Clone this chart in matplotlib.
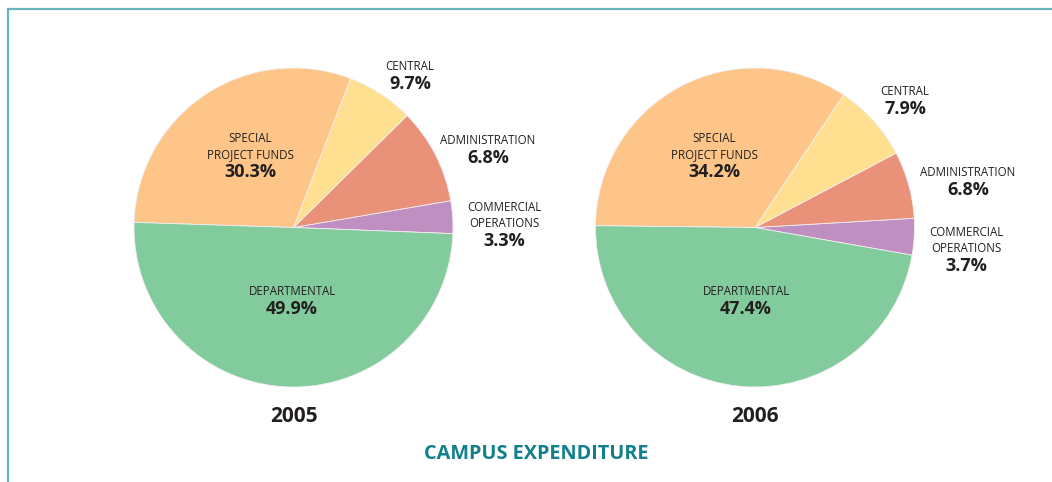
import matplotlib.pyplot as plt
from matplotlib.lines import Line2D

W, H = 1052, 482

categories = ['COMMERCIAL\nOPERATIONS', 'ADMINISTRATION', 'CENTRAL',
              'SPECIAL\nPROJECT FUNDS', 'DEPARTMENTAL']
colors = ['#bf8fc2', '#e99279', '#fee090', '#fdc588', '#82cb9c']

# percentages printed on the chart
pct_2005 = [3.3, 6.8, 9.7, 30.3, 49.9]
pct_2006 = [3.7, 6.8, 7.9, 34.2, 47.4]
# slice sizes as drawn (2005 admin/central wedges are swapped in the original)
slices_2005 = [3.3, 9.7, 6.8, 30.3, 49.9]
slices_2006 = [3.7, 6.8, 7.9, 34.2, 47.4]

years = ['2005', '2006']
title = 'CAMPUS EXPENDITURE'

# pixel centre (x, y from top) of each percentage figure, same order as categories
pos_2005 = [(504, 240), (488, 157), (410, 83), (250, 171), (292, 308)]
pos_2006 = [(966, 265), (968, 189), (905, 108), (714, 171), (746, 308)]

FONT = ['Open Sans', 'DejaVu Sans']
TXT = '#231f20'

fig = plt.figure(figsize=(W / 100, H / 100), dpi=100)
ax = fig.add_axes([0, 0, 1, 1])


def draw_pie(cx, cy, vals, start, pcts, positions, year):
    ax.pie(vals, colors=colors, startangle=start, counterclock=True,
           center=(cx, H - cy), radius=159.5,
           wedgeprops=dict(linewidth=0.6, edgecolor='#f4eef2'))
    for cat, p, (x, y) in zip(categories, pcts, positions):
        ax.text(x, H - (y + 6), f'{p}%', ha='center', va='baseline',
                fontsize=13, family=FONT, fontweight='bold', color=TXT)
        lines = cat.split('\n')[::-1]
        for k, line in enumerate(lines):
            base = y - 17 + 4 - 16 * k
            ax.text(x, H - base, line, ha='center', va='baseline',
                    fontsize=8.3, family=FONT, color=TXT)
    ax.text(cx, H - 422, year, ha='center', va='baseline', fontsize=15,
            family=FONT, fontweight='bold', color=TXT)


draw_pie(293.5, 227.5, slices_2005, -2.2, pct_2005, pos_2005, years[0])
draw_pie(755, 227.5, slices_2006, -10.0, pct_2006, pos_2006, years[1])

ax.text(536, H - 459, title, ha='center', va='baseline', fontsize=14.3,
        family=FONT, fontweight='bold', color='#117f8c')

# frame lines top and left
ax.add_line(Line2D([8, W], [H - 9, H - 9], color='#67b4bf', lw=1.6))
ax.add_line(Line2D([8, 8], [H - 9, 0], color='#67b4bf', lw=1.6))

ax.set_xlim(0, W)
ax.set_ylim(0, H)
ax.set_aspect('auto')
ax.axis('off')

fig.savefig('out.png', dpi=100)
